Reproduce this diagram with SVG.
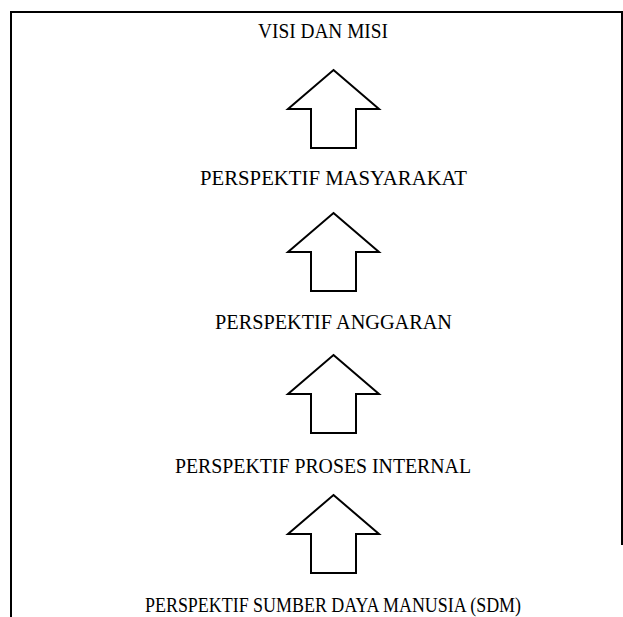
<svg xmlns="http://www.w3.org/2000/svg" width="623" height="617" viewBox="0 0 623 617">
<style>
.t{font-family:"Liberation Serif","DejaVu Serif",serif;font-size:20.5px;fill:#000;text-anchor:middle}
.a{fill:#fff;stroke:#000;stroke-width:2;stroke-linejoin:miter}
.b{fill:none;stroke:#000;stroke-width:2}
</style>
<defs>
<path id="up" class="a" d="M0,0 L45.5,39 L22.5,39 L22.5,78 L-22.5,78 L-22.5,39 L-45.5,39 Z"/>
</defs>
<rect width="623" height="617" fill="#fff"/>
<g id="frame">
<path class="b" d="M11,617 L11,12 L622,12 L622,545"/>
</g>
<g id="n1"><text class="t" x="323" y="38" textLength="130" lengthAdjust="spacingAndGlyphs">VISI DAN MISI</text></g>
<g id="n2"><text class="t" x="333.5" y="185" textLength="267" lengthAdjust="spacingAndGlyphs">PERSPEKTIF MASYARAKAT</text></g>
<g id="n3"><text class="t" x="333.5" y="329" textLength="237" lengthAdjust="spacingAndGlyphs">PERSPEKTIF ANGGARAN</text></g>
<g id="n4"><text class="t" x="323" y="473" textLength="296" lengthAdjust="spacingAndGlyphs">PERSPEKTIF PROSES INTERNAL</text></g>
<g id="n5"><text class="t" x="333" y="612" textLength="376" lengthAdjust="spacingAndGlyphs">PERSPEKTIF SUMBER DAYA MANUSIA (SDM)</text></g>
<g id="connectors">
<use href="#up" x="333.5" y="70"/>
<use href="#up" x="333.5" y="213"/>
<use href="#up" x="333.5" y="355"/>
<use href="#up" x="333.5" y="495"/>
</g>
</svg>
